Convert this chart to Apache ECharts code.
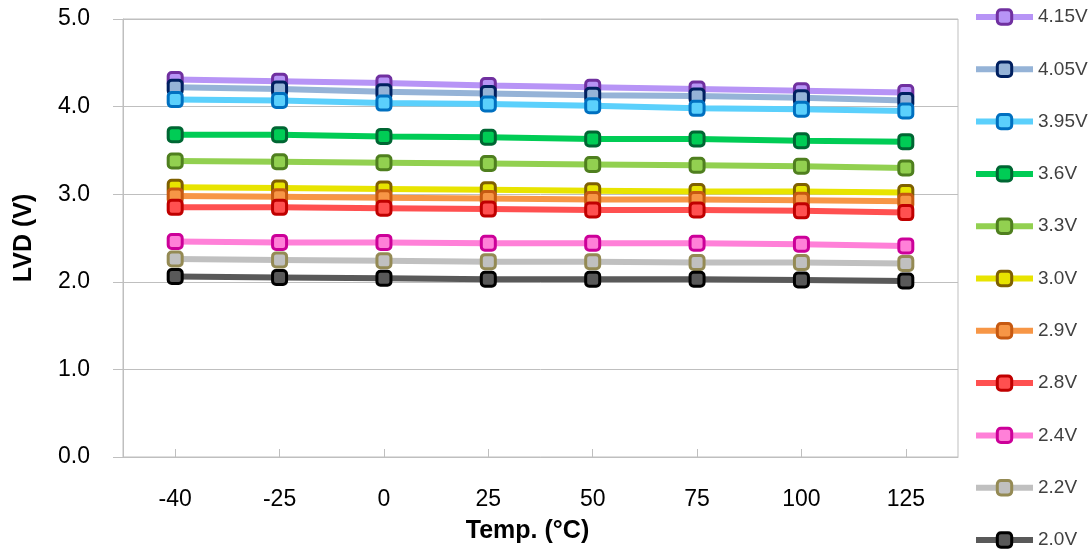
<!DOCTYPE html>
<html>
<head>
<meta charset="utf-8">
<script src="https://cdn.jsdelivr.net/npm/echarts@6/dist/echarts.min.js"></script>
<style>html,body{margin:0;padding:0;background:#fff;}#c{width:1091px;height:555px;}</style>
</head>
<body>
<div id="c"></div>
<script>
const categories = ['-40', '-25', '0', '25', '50', '75', '100', '125'];
const seriesNames = ['4.15V', '4.05V', '3.95V', '3.6V', '3.3V', '3.0V', '2.9V', '2.8V', '2.4V', '2.2V', '2.0V'];
const v415 = [4.31, 4.29, 4.27, 4.24, 4.22, 4.20, 4.18, 4.16];
const v405 = [4.22, 4.20, 4.17, 4.15, 4.13, 4.12, 4.10, 4.07];
const v395 = [4.08, 4.07, 4.04, 4.03, 4.01, 3.98, 3.97, 3.95];
const v36  = [3.68, 3.68, 3.66, 3.65, 3.63, 3.63, 3.61, 3.60];
const v33  = [3.38, 3.37, 3.36, 3.35, 3.34, 3.33, 3.32, 3.30];
const v30  = [3.08, 3.07, 3.06, 3.05, 3.04, 3.03, 3.03, 3.02];
const v29  = [2.98, 2.97, 2.96, 2.95, 2.94, 2.94, 2.93, 2.92];
const v28  = [2.85, 2.85, 2.84, 2.83, 2.82, 2.82, 2.81, 2.79];
const v24  = [2.46, 2.45, 2.45, 2.44, 2.44, 2.44, 2.43, 2.41];
const v22  = [2.26, 2.25, 2.24, 2.23, 2.23, 2.22, 2.22, 2.21];
const v20  = [2.06, 2.05, 2.04, 2.03, 2.03, 2.03, 2.02, 2.01];
const seriesValues = [v415, v405, v395, v36, v33, v30, v29, v28, v24, v22, v20];
const yTicks = [0, 1, 2, 3, 4, 5];

const lineColors = ['#b794f6', '#95b3d7', '#5bd0fc', '#00cc55', '#92d050', '#e8e400', '#f79646', '#ff5050', '#ff80d8', '#c0c0c0', '#595959'];
const borderColors = ['#7030a0', '#002060', '#0070c0', '#006633', '#4f7f1f', '#7f6000', '#c65911', '#c00000', '#cc0099', '#948a54', '#000000'];

const chart = echarts.init(document.getElementById('c'), null, {renderer: 'canvas'});
const FONT = 'Liberation Sans, Arial, sans-serif';

const series = seriesNames.map((name, i) => ({
  name: name,
  type: 'line',
  data: seriesValues[i],
  symbol: 'roundRect',
  symbolSize: 14,
  showAllSymbol: true,
  lineStyle: {width: 6, color: lineColors[i]},
  itemStyle: {color: lineColors[i], borderColor: borderColors[i], borderWidth: 3},
  emphasis: {disabled: true},
  z: 2 + i * 0.01
}));

chart.setOption({
  animation: false,
  backgroundColor: '#ffffff',
  grid: {left: 123, right: 133, top: 19, bottom: 98, show: true, borderColor: '#bfbfbf', borderWidth: 1},
  legend: {
    orient: 'vertical',
    left: 973,
    top: 7,
    padding: 0,
    data: seriesNames,
    itemWidth: 57,
    itemHeight: 18,
    itemGap: 32.3,
    lineStyle: {width: 6},
    itemStyle: {borderWidth: 3},
    textStyle: {fontFamily: FONT, fontSize: 19, color: '#404040', lineHeight: 20}
  },
  xAxis: {
    type: 'category',
    data: categories,
    boundaryGap: true,
    name: 'Temp. (°C)',
    nameLocation: 'middle',
    nameGap: 62,
    nameTextStyle: {fontFamily: FONT, fontSize: 25, fontWeight: 'bold', color: '#000', padding: [0, 26, 0, 0]},
    axisLine: {lineStyle: {color: '#bfbfbf', width: 1}},
    axisTick: {show: true, inside: true, alignWithLabel: true, length: 8, lineStyle: {color: '#bfbfbf'}},
    axisLabel: {fontFamily: FONT, fontSize: 23, color: '#000', margin: 31},
    splitLine: {show: false}
  },
  yAxis: {
    type: 'value',
    min: yTicks[0],
    max: yTicks[yTicks.length - 1],
    interval: 1,
    name: 'LVD (V)',
    nameLocation: 'middle',
    nameGap: 86,
    nameRotate: 90,
    nameTextStyle: {fontFamily: FONT, fontSize: 25, fontWeight: 'bold', color: '#000'},
    axisLine: {show: true, lineStyle: {color: '#bfbfbf', width: 1}},
    axisTick: {show: true, inside: false, length: 10, lineStyle: {color: '#bfbfbf'}},
    axisLabel: {fontFamily: FONT, fontSize: 23, color: '#000', margin: 33, formatter: v => v.toFixed(1)},
    splitLine: {show: true, lineStyle: {color: '#bfbfbf', width: 1}}
  },
  series: series
});
</script>
</body>
</html>
